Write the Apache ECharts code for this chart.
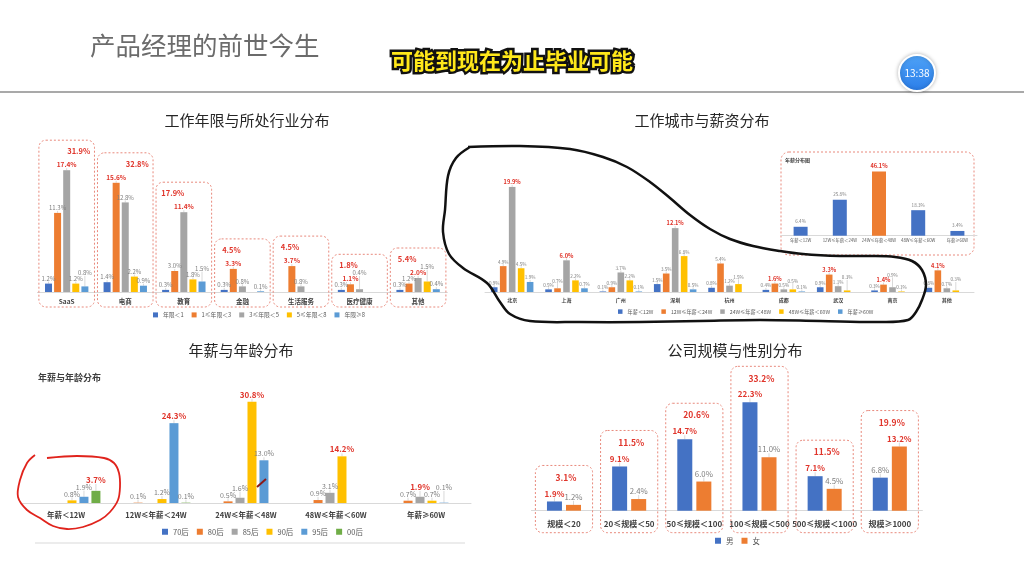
<!DOCTYPE html>
<html><head><meta charset="utf-8">
<script src="https://cdn.jsdelivr.net/npm/echarts@6/dist/echarts.min.js"></script>
<style>html,body{margin:0;padding:0;background:#fff}#c{width:1024px;height:576px}</style>
</head><body><div id="c"></div>
<script>
// ---------- DATA ----------
// Chart 1: 工作年限与所处行业分布
const industryCats = ['SaaS','电商','教育','金融','生活服务','医疗健康','其他'];
const tenureNames = ['年限＜1','1≤年限＜3','3≤年限＜5','5≤年限＜8','年限≥8'];
const tenureLT1  = [1.2, 1.4, 0.3, 0.3, null, 0.3, 0.3];
const tenure1to3 = [11.3, 15.6, 3.0, 3.3, 3.7, 1.1, 1.2];
const tenure3to5 = [17.4, 12.8, 11.4, 0.8, 0.8, 0.4, 2.0];
const tenure5to8 = [1.2, 2.2, 1.8, null, null, null, 1.5];
const tenureGE8  = [0.8, 0.9, 1.5, 0.1, null, null, 0.4];
const industryTotals = [31.9, 32.8, 17.9, 4.5, 4.5, 1.8, 5.4];

// Chart 2: 工作城市与薪资分布
const cities = ['北京','上海','广州','深圳','杭州','成都','武汉','南京','其他'];
const salaryNames = ['年薪＜12W','12W≤年薪＜24W','24W≤年薪＜48W','48W≤年薪＜60W','年薪≥60W'];
const citySalLT12  = [0.9, 0.5, 0.1, 1.5, 0.8, 0.4, 0.9, 0.3, 0.8];
const citySal12to24 = [4.9, 0.7, 0.9, 3.5, 5.4, 1.6, 3.3, 1.4, 4.1];
const citySal24to48 = [19.9, 6.0, 3.7, 12.1, 1.2, 0.5, 1.1, 0.9, 0.7];
const citySal48to60 = [4.5, 2.2, 2.2, 6.8, 1.5, 0.5, 0.3, 0.1, 0.3];
const citySalGE60  = [1.9, 0.7, 0.1, 0.5, null, 0.1, null, null, null];
const cityMaxHighlighted = [true, true, false, true, false, true, true, true, true];

// Inset: 年薪分布图
const salaryDistCats = ['年薪＜12W','12W≤年薪＜24W','24W≤年薪＜48W','48W≤年薪＜60W','年薪≥60W'];
const salaryDist = [6.4, 25.8, 46.1, 18.3, 3.4];

// Chart 3: 年薪与年龄分布
const salaryCats = ['年薪＜12W','12W≤年薪＜24W','24W≤年薪＜48W','48W≤年薪＜60W','年薪≥60W'];
const ageNames = ['70后','80后','85后','90后','95后','00后'];
const age70 = [null, null, null, null, null];
const age80 = [null, 0.1, 0.5, 0.9, 0.7];
const age85 = [null, null, 1.6, 3.1, 1.9];
const age90 = [0.8, 1.2, 30.8, 14.2, 0.7];
const age95 = [1.9, 24.3, 13.0, null, 0.1];
const age00 = [3.7, 0.1, null, null, null];

// Chart 4: 公司规模与性别分布
const scaleCats = ['规模＜20','20≤规模＜50','50≤规模＜100','100≤规模＜500','500≤规模＜1000','规模≥1000'];
const genderNames = ['男','女'];
const male   = [1.9, 9.1, 14.7, 22.3, 7.1, 6.8];
const female = [1.2, 2.4, 6.0, 11.0, 4.5, 13.2];
const scaleTotals = [3.1, 11.5, 20.6, 33.2, 11.5, 19.9];

// ---------- HELPERS ----------
const FONT = '"Noto Sans CJK SC", "Noto Sans", sans-serif';
const RED = '#E0352B';
const COL = {blue:'#4472C4', orange:'#ED7D31', gray:'#A5A5A5', gold:'#FFC000', lblue:'#5B9BD5', green:'#70AD47'};
const fmt = v => (+v).toFixed(1) + '%';

function maxFlags(arrays) {
  const n = arrays[0].length, idx = [];
  for (let i = 0; i < n; i++) {
    let b = -1, bv = -Infinity;
    arrays.forEach((a, s) => { if (a[i] != null && a[i] > bv) { bv = a[i]; b = s; } });
    idx.push(b);
  }
  return (s, i) => idx[i] === s;
}

// simple label de-overlap: later labels move upward
const placed = {};
function stagger(p) {
  const r = p.labelRect;
  if (!r) return {};
  const key = p.seriesIndex * 1000 + p.dataIndex;
  const others = Object.keys(placed).map(Number).filter(k => k < key).map(k => placed[k]);
  let y = r.y, changed = true, guard = 0;
  while (changed && guard++ < 30) {
    changed = false;
    for (const o of others) {
      if (r.x < o.x + o.w - 0.5 && r.x + r.width > o.x + 0.5 && y < o.y + o.h - 0.3 && y + r.height > o.y + 0.3) {
        y = o.y - r.height + 0.3; changed = true;
      }
    }
  }
  placed[key] = {x: r.x, y: y, w: r.width, h: r.height};
  return {dy: y - r.y};
}

function bars(names, arrays, colors, axis, o, isRed) {
  return arrays.map((arr, s) => ({
    type: 'bar', name: names[s], xAxisIndex: axis, yAxisIndex: axis,
    barWidth: o.barWidth, barGap: o.barGap,
    itemStyle: {color: colors[s]},
    label: {show: true, position: 'top', distance: o.dist, fontSize: o.fs, color: '#7F7F7F',
            fontFamily: FONT, formatter: q => fmt(q.value)},
    labelLayout: stagger,
    labelLine: {show: true, lineStyle: {color: '#BFBFBF', width: 0.6}},
    data: arr.map((v, i) => v == null ? null :
      (isRed(s, i) ? {value: v, label: {color: RED, fontWeight: 'bold', fontSize: o.rfs}} : v)),
    z: 3
  }));
}

function boxSeries(axis, arrays, totals, o) {
  const maxVals = totals.map((t, i) => Math.max(...arrays.map(a => a[i] == null ? 0 : a[i])));
  return {
    type: 'custom', xAxisIndex: axis, yAxisIndex: axis, silent: true, z: 1,
    data: totals.map((t, i) => [i, maxVals[i], t]),
    renderItem(params, api) {
      const i = api.value(0);
      const base = api.coord([i, 0]);
      const cx = base[0], by = base[1];
      const topBar = api.coord([i, api.value(1)])[1];
      const band = api.size([1, 0])[0];
      const w = band - o.shrink;
      const top = topBar - o.pad;
      const bottom = by + o.below;
      return {type: 'group', children: [
        {type: 'rect', shape: {x: cx - w / 2, y: top, width: w, height: bottom - top, r: 7},
         style: {fill: 'none', stroke: '#E8897C', lineWidth: 1, lineDash: [2, 2]}},
        {type: 'text', x: cx + o.labelDx(i), y: top + o.labelDy,
         style: {text: fmt(api.value(2)), fill: RED, font: 'bold ' + o.fs + 'px ' + FONT,
                 align: 'center', verticalAlign: 'middle', textAlign: 'center', textVerticalAlign: 'middle'}}
      ]};
    }
  };
}

function xAx(grid, data, fs, margin, weight, color) {
  return {type: 'category', gridIndex: grid, data: data,
    axisTick: {show: false}, axisLine: {lineStyle: {color: '#D9D9D9', width: 1}},
    axisLabel: {interval: 0, fontSize: fs, fontWeight: weight || 'bold', color: color || '#404040', margin: margin, fontFamily: FONT},
    splitLine: {show: false}};
}
function yAx(grid, max) {
  return {type: 'value', gridIndex: grid, min: 0, max: max, show: false, splitLine: {show: false}};
}
function legendAt(names, left, top, fs, icon) {
  return {data: names, left: left, top: top, itemWidth: icon, itemHeight: icon, itemGap: 8, icon: 'rect',
    padding: 0, textStyle: {fontSize: fs, color: '#595959', fontFamily: FONT}, selectedMode: false};
}

// ---------- SERIES ----------
const c1Arrays = [tenureLT1, tenure1to3, tenure3to5, tenure5to8, tenureGE8];
const c1Colors = [COL.blue, COL.orange, COL.gray, COL.gold, COL.lblue];
const c2Arrays = [citySalLT12, citySal12to24, citySal24to48, citySal48to60, citySalGE60];
const c3Arrays = [age70, age80, age85, age90, age95, age00];
const c3Colors = [COL.blue, COL.orange, COL.gray, COL.gold, COL.lblue, COL.green];
const c4Arrays = [male, female];

const c2max = maxFlags(c2Arrays);
const insetMax = Math.max(...salaryDist);

const series = [].concat(
  boxSeries(0, c1Arrays, industryTotals, {pad: 30, below: 15, shrink: 3, labelDy: 11, labelDx: i => i < 2 ? 12 : -11, fs: 7.5}),
  bars(tenureNames, c1Arrays, c1Colors, 0, {barWidth: 7, barGap: '30%', dist: 2, fs: 6, rfs: 6.5}, maxFlags(c1Arrays)),
  bars(salaryNames, c2Arrays, c1Colors, 1, {barWidth: 6.6, barGap: '36%', dist: 2, fs: 4.6, rfs: 5.6},
       (s, i) => c2max(s, i) && cityMaxHighlighted[i]),
  [{
    type: 'bar', name: '年薪分布', xAxisIndex: 2, yAxisIndex: 2, barWidth: 14,
    label: {show: true, position: 'top', distance: 3, fontSize: 4.6, color: '#7F7F7F', fontFamily: FONT, formatter: q => fmt(q.value)},
    data: salaryDist.map(v => v === insetMax
      ? {value: v, itemStyle: {color: COL.orange}, label: {color: RED, fontWeight: 'bold', fontSize: 5.6}}
      : {value: v, itemStyle: {color: COL.blue}}),
    z: 3
  }],
  bars(ageNames, c3Arrays, c3Colors, 3, {barWidth: 9, barGap: '33%', dist: 3, fs: 7, rfs: 8}, maxFlags(c3Arrays)),
  boxSeries(4, c4Arrays, scaleTotals, {pad: 36, below: 22, shrink: 8, labelDy: 12, labelDx: () => 2, fs: 8.5}),
  bars(genderNames, c4Arrays, [COL.blue, COL.orange], 4, {barWidth: 15, barGap: '27%', dist: 4, fs: 7.8, rfs: 8}, maxFlags(c4Arrays))
);

// ---------- DECORATION ----------
const loopPts = [[468,147],[520,146],[570,149],[603,157],[627,167],[650,182],[670,198],[690,215],[710,229],[730,239],[753,246],[780,251],[803,254],[840,256],[870,256],[895,257],[912,261],[922,270],[926,285],[922,300],[916,312],[908,320],[880,322],[820,321],[760,320],[700,321],[640,322],[580,322],[530,321],[510,314],[500,302],[487,283],[463,268],[449,254],[443,232],[445,210],[448,176],[456,158],[470,147]];
const circlePts = [[35,455],[27,463],[20,480],[18,497],[27,510],[40,518],[53,526],[67,529],[83,527],[100,520],[110,512],[118,500],[120,487],[119,473],[114,463],[104,458],[77,456],[47,458]];

const titleStyle = {fill: '#262626', font: '15px ' + FONT, align: 'center', verticalAlign: 'middle', textAlign: 'center', textVerticalAlign: 'middle'};

const graphic = [
  {type: 'text', x: 90, y: 45, style: {text: '产品经理的前世今生', fill: '#6B6B6B', font: '25.5px ' + FONT, verticalAlign: 'middle', textVerticalAlign: 'middle'}},
  {type: 'text', x: 512, y: 61, z: 50, style: {text: '可能到现在为止毕业可能', fill: '#FFE81A', stroke: '#111', lineWidth: 5, font: 'bold 22px ' + FONT, align: 'center', verticalAlign: 'middle', textAlign: 'center', textVerticalAlign: 'middle'}},
  {type: 'line', shape: {x1: 0, y1: 92, x2: 1024, y2: 92}, style: {stroke: '#8C8C8C', lineWidth: 1.5}},
  {type: 'circle', shape: {cx: 917, cy: 73, r: 18}, z: 20,
   style: {fill: new echarts.graphic.LinearGradient(0, 0, 0, 1, [{offset: 0, color: '#4FA3F7'}, {offset: 1, color: '#2A7DE9'}]), stroke: '#fff', lineWidth: 2, shadowBlur: 4, shadowColor: 'rgba(0,0,0,0.25)'}},
  {type: 'text', x: 917, y: 73, z: 21, style: {text: '13:38', fill: '#fff', font: '10px ' + FONT, align: 'center', verticalAlign: 'middle', textAlign: 'center', textVerticalAlign: 'middle'}},
  {type: 'text', x: 247, y: 120, style: Object.assign({text: '工作年限与所处行业分布'}, titleStyle)},
  {type: 'text', x: 702, y: 120, style: Object.assign({text: '工作城市与薪资分布'}, titleStyle)},
  {type: 'text', x: 241, y: 350, style: Object.assign({text: '年薪与年龄分布'}, titleStyle)},
  {type: 'text', x: 735, y: 350, style: Object.assign({text: '公司规模与性别分布'}, titleStyle)},
  {type: 'rect', shape: {x: 781, y: 152, width: 193, height: 103, r: 8}, style: {fill: 'none', stroke: '#E8897C', lineWidth: 1, lineDash: [2, 2]}},
  {type: 'text', x: 785, y: 160, style: {text: '年薪分布图', fill: '#404040', font: 'bold 5px ' + FONT, verticalAlign: 'middle', textVerticalAlign: 'middle'}},
  {type: 'text', x: 38, y: 378, style: {text: '年薪与年龄分布', fill: '#404040', font: 'bold 9px ' + FONT, verticalAlign: 'middle', textVerticalAlign: 'middle'}},
  {type: 'line', shape: {x1: 35, y1: 543, x2: 465, y2: 543}, style: {stroke: '#D9D9D9', lineWidth: 1}},
  {type: 'polyline', z: 100, shape: {points: loopPts, smooth: 0.35}, style: {fill: 'none', stroke: '#111', lineWidth: 2.5}},
  {type: 'polyline', z: 100, shape: {points: circlePts, smooth: 0.35}, style: {fill: 'none', stroke: '#E0231C', lineWidth: 1.8}},
  {type: 'line', z: 100, shape: {x1: 257, y1: 487, x2: 266, y2: 479}, style: {stroke: '#8B1A1A', lineWidth: 2}}
];

const chart = echarts.init(document.getElementById('c'));
chart.setOption({
  animation: false,
  textStyle: {fontFamily: FONT},
  grid: [
    {left: 37.4, top: 152, width: 410, height: 140, outerBoundsMode: 'none'},
    {left: 485, top: 160, width: 489, height: 132, outerBoundsMode: 'none'},
    {left: 781, top: 166, width: 196, height: 69.7, outerBoundsMode: 'none'},
    {left: 21, top: 388, width: 450, height: 115, outerBoundsMode: 'none'},
    {left: 531.4, top: 389.2, width: 391, height: 121.5, outerBoundsMode: 'none'}
  ],
  xAxis: [
    xAx(0, industryCats, 6.5, 6),
    xAx(1, cities, 5, 6),
    xAx(2, salaryDistCats, 4.3, 3, 'normal', '#595959'),
    xAx(3, salaryCats, 7.5, 8),
    xAx(4, scaleCats, 8, 9)
  ],
  yAxis: [yAx(0, 20), yAx(1, 25), yAx(2, 50), yAx(3, 35), yAx(4, 25)],
  legend: [
    legendAt(tenureNames, 153, 312, 5.8, 5),
    legendAt(salaryNames, 618, 309, 5.2, 4.5),
    legendAt(ageNames, 162, 528, 7.5, 6),
    legendAt(genderNames, 715, 537, 7.5, 6)
  ],
  series: series,
  graphic: graphic
});
</script>
</body></html>
